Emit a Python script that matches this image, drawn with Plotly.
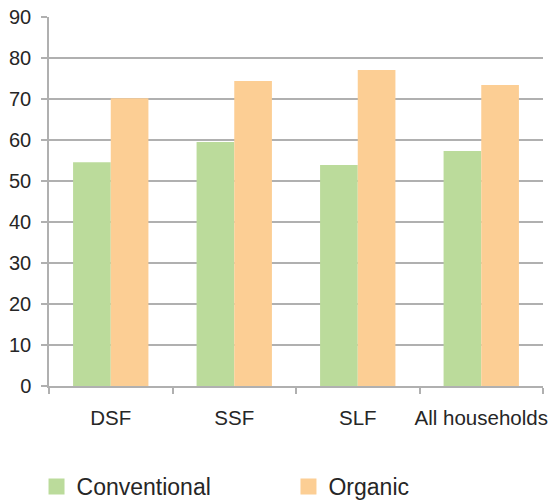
import plotly.graph_objects as go

categories = ["DSF", "SSF", "SLF", "All households"]
conventional = [54.6, 59.5, 53.9, 57.3]
organic = [70.2, 74.4, 77.1, 73.4]
y_ticks = [0, 10, 20, 30, 40, 50, 60, 70, 80, 90]

GREEN = "#BBDB9B"
ORANGE = "#FCCE94"
GRID = "#B0B0B0"
TEXT = "#262626"
FONT = "Liberation Sans, Arial, sans-serif"

fig = go.Figure()
fig.add_trace(go.Bar(x=categories, y=conventional, name="Conventional",
                     marker=dict(color=GREEN, line=dict(width=0)), showlegend=False))
fig.add_trace(go.Bar(x=categories, y=organic, name="Organic",
                     marker=dict(color=ORANGE, line=dict(width=0)), showlegend=False))
# legend entries with larger square symbols, each in its own legend box
fig.add_trace(go.Scatter(x=[None], y=[None], mode="markers", name="Conventional",
                         marker=dict(symbol="square", size=17, color=GREEN), legend="legend"))
fig.add_trace(go.Scatter(x=[None], y=[None], mode="markers", name="Organic",
                         marker=dict(symbol="square", size=17, color=ORANGE), legend="legend2"))

legend_style = dict(orientation="h", xref="container", yref="container",
                    xanchor="left", y=0.029, yanchor="middle",
                    font=dict(size=23, color=TEXT, family=FONT),
                    itemsizing="trace", bgcolor="rgba(0,0,0,0)")

fig.update_layout(
    width=550, height=501,
    margin=dict(l=49, r=7, t=16.5, b=115, pad=0),
    paper_bgcolor="white", plot_bgcolor="white",
    barmode="group", bargap=0.39, bargroupgap=0,
    font=dict(family=FONT, color=TEXT, size=20),
    showlegend=True,
    legend=dict(x=0.0664, **legend_style),
    legend2=dict(x=0.5245, **legend_style),
)
fig.update_xaxes(
    type="category", showline=True, linecolor=GRID, linewidth=1.5,
    ticks="outside", tickson="boundaries", ticklen=6, tickcolor=GRID, tickwidth=1.5,
    tickfont=dict(size=20.5, color=TEXT), tickangle=0, ticklabelstandoff=13,
    ticklabeloverflow="allow", showgrid=False, zeroline=False, automargin=False,
)
fig.update_yaxes(
    range=[0, 90], tickvals=y_ticks, showline=True, linecolor=GRID, linewidth=1.5,
    ticks="outside", ticklen=6, tickcolor=GRID, tickwidth=1.5,
    showgrid=True, gridcolor=GRID, gridwidth=1.5, zeroline=False,
    tickfont=dict(size=20, color=TEXT), ticklabelstandoff=6,
    ticklabeloverflow="allow", automargin=False,
)

# remove the browser's default 8px body margin so the 550x501 figure fills the window
fig.write_html("out.html", config={"displayModeBar": False},
               post_script="document.body.style.margin='0';")
